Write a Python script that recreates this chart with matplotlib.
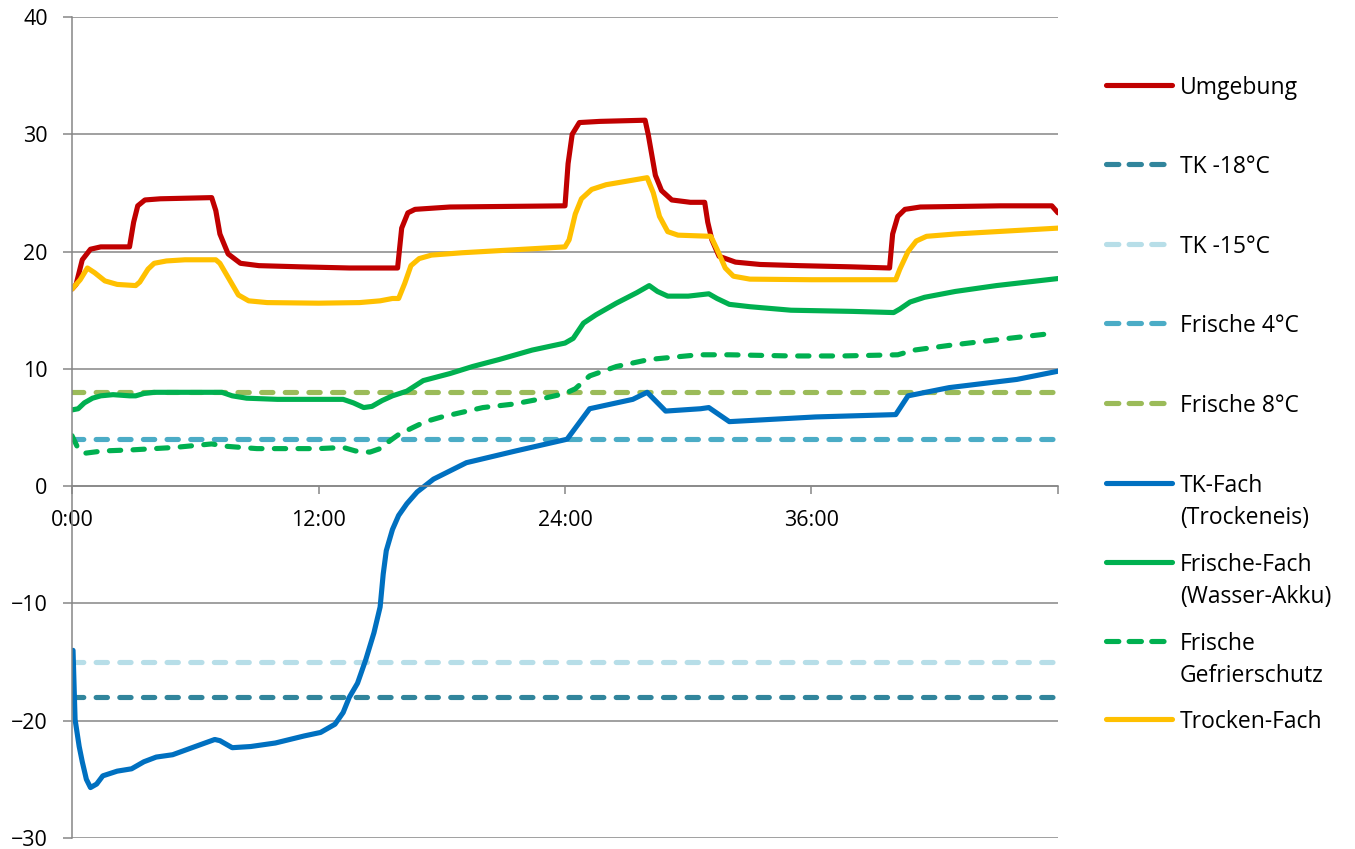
import numpy as np
import matplotlib
matplotlib.use("Agg")
from matplotlib import pyplot as plt
from matplotlib.lines import Line2D

plt.rcParams['font.family'] = ['Open Sans', 'DejaVu Sans']

# time axis in hours, values in degC
umg_t = [0.0, 0.2, 0.5, 0.9, 1.4, 2.8, 3.0, 3.2, 3.55, 4.3, 6.8, 7.0, 7.2, 7.6, 8.2, 9.1, 11.1, 13.5,
         15.85, 16.05, 16.35, 16.7, 18.4, 24.0, 24.15, 24.35, 24.7, 25.7, 27.9, 28.05, 28.4, 28.7,
         29.2, 30.1, 30.8, 30.95, 31.15, 31.5, 32.3, 33.5, 35.4, 37.9, 39.8, 39.95, 40.2, 40.55,
         41.3, 45.2, 47.7, 48.0]
umg_v = [16.8, 17.2, 19.3, 20.2, 20.4, 20.4, 22.5, 23.9, 24.4, 24.5, 24.6, 23.5, 21.5, 19.8, 19.0,
         18.8, 18.7, 18.6, 18.6, 22.0, 23.3, 23.6, 23.8, 23.9, 27.5, 30.0, 31.0, 31.1, 31.2, 30.0,
         26.5, 25.2, 24.4, 24.2, 24.2, 22.5, 21.0, 19.6, 19.1, 18.9, 18.8, 18.7, 18.6, 21.5, 23.0,
         23.6, 23.8, 23.9, 23.9, 23.3]

tk_t = [0.05, 0.15, 0.35, 0.5, 0.7, 0.9, 1.2, 1.5, 2.2, 2.9, 3.5, 4.1, 4.9, 6.0, 6.95, 7.2, 7.8,
        8.7, 9.9, 11.3, 12.1, 12.8, 13.2, 13.5, 13.9, 14.3, 14.7, 15.0, 15.15, 15.3, 15.6, 15.9,
        16.3, 16.8, 17.6, 19.2, 21.6, 24.1, 25.2, 27.3, 28.0, 28.9, 30.6, 31.0, 32.0, 36.2, 40.1,
        40.7, 42.7, 46.0, 48.0]
tk_v = [-14.0, -19.9, -22.2, -23.5, -25.0, -25.7, -25.4, -24.7, -24.3, -24.1, -23.5, -23.1, -22.9,
        -22.2, -21.6, -21.7, -22.3, -22.2, -21.9, -21.3, -21.0, -20.3, -19.3, -18.0, -16.8, -14.8,
        -12.5, -10.3, -7.5, -5.5, -3.7, -2.5, -1.5, -0.5, 0.6, 2.0, 3.0, 4.0, 6.6, 7.4, 8.0, 6.4,
        6.6, 6.7, 5.5, 5.9, 6.1, 7.7, 8.4, 9.1, 9.8]

fri_t = [0.0, 0.3, 0.6, 1.0, 1.4, 2.0, 2.8, 3.1, 3.5, 4.0, 7.3, 7.8, 8.5, 10.0, 13.2, 13.7, 14.2,
         14.6, 15.1, 15.6, 16.3, 17.1, 18.4, 19.5, 20.8, 22.4, 24.0, 24.4, 24.9, 25.5, 26.5, 27.5,
         28.1, 28.5, 29.0, 30.0, 31.0, 31.4, 32.0, 33.0, 35.0, 38.0, 40.0, 40.3, 40.8, 41.5, 43.0,
         45.0, 48.0]
fri_v = [6.5, 6.6, 7.1, 7.5, 7.7, 7.8, 7.7, 7.7, 7.9, 8.0, 8.0, 7.7, 7.5, 7.4, 7.4, 7.1, 6.7, 6.8,
         7.3, 7.7, 8.1, 9.0, 9.6, 10.2, 10.8, 11.6, 12.2, 12.6, 13.9, 14.6, 15.6, 16.5, 17.1, 16.6,
         16.2, 16.2, 16.4, 16.0, 15.5, 15.3, 15.0, 14.9, 14.8, 15.1, 15.7, 16.1, 16.6, 17.1, 17.7]

gfs_t = [0.0, 0.3, 0.6, 1.5, 3.0, 5.0, 6.8, 7.5, 9.0, 12.0, 13.2, 13.8, 14.5, 15.0, 15.5, 15.9,
         16.6, 17.2, 18.0, 19.0, 20.0, 21.5, 23.0, 24.0, 24.5, 25.2, 26.5, 28.1, 30.5, 32.0, 35.0,
         37.5, 40.2, 41.0, 42.7, 45.1, 47.6]
gfs_v = [4.3, 3.2, 2.8, 3.0, 3.1, 3.3, 3.6, 3.4, 3.2, 3.2, 3.3, 3.0, 2.9, 3.2, 3.9, 4.4, 5.0, 5.5,
         5.9, 6.3, 6.7, 7.0, 7.5, 7.9, 8.3, 9.4, 10.2, 10.8, 11.2, 11.2, 11.1, 11.1, 11.2, 11.6,
         12.0, 12.5, 13.0]

tro_t = [0.0, 0.4, 0.75, 1.1, 1.6, 2.2, 3.1, 3.3, 3.7, 4.0, 4.6, 5.5, 7.0, 7.2, 7.6, 8.1, 8.6, 9.5,
         12.0, 14.0, 15.0, 15.6, 15.9, 16.2, 16.5, 16.9, 17.5, 19.0, 21.0, 24.0, 24.2, 24.5, 24.8,
         25.3, 26.0, 28.0, 28.3, 28.6, 29.0, 29.5, 31.1, 31.4, 31.8, 32.2, 33.0, 36.0, 40.1, 40.3,
         40.7, 41.1, 41.6, 43.0, 45.0, 48.0]
tro_v = [16.8, 17.6, 18.6, 18.2, 17.5, 17.2, 17.1, 17.4, 18.5, 19.0, 19.2, 19.3, 19.3, 19.0, 17.8,
         16.3, 15.8, 15.65, 15.6, 15.65, 15.8, 16.0, 16.0, 17.3, 18.8, 19.4, 19.7, 19.9, 20.1, 20.4,
         21.0, 23.2, 24.5, 25.3, 25.7, 26.3, 25.0, 23.0, 21.7, 21.4, 21.3, 20.2, 18.6, 17.9, 17.65,
         17.6, 17.6, 18.5, 20.0, 20.9, 21.3, 21.5, 21.7, 22.0]

x_ticks = [0, 12, 24, 36, 48]
x_labels = ['0:00', '12:00', '24:00', '36:00', '']
y_ticks = [-30, -20, -10, 0, 10, 20, 30, 40]

# legend order = drawing order; limit lines have a constant value
series = [
    ('Umgebung', umg_t, umg_v, '#C00000', '-'),
    ('TK -18°C', None, -18, '#31859C', '--'),
    ('TK -15°C', None, -15, '#B7DEE8', '--'),
    ('Frische 4°C', None, 4, '#4BACC6', '--'),
    ('Frische 8°C', None, 8, '#9BBB59', '--'),
    ('TK-Fach\n(Trockeneis)', tk_t, tk_v, '#0070C0', '-'),
    ('Frische-Fach\n(Wasser-Akku)', fri_t, fri_v, '#00B050', '-'),
    ('Frische\nGefrierschutz', gfs_t, gfs_v, '#00B050', '--'),
    ('Trocken-Fach', tro_t, tro_v, '#FFC000', '-'),
]

W, H = 1355, 849
fig = plt.figure(figsize=(W / 100, H / 100), dpi=100)
ax = fig.add_axes([72 / W, 1 - 838 / H, (1058 - 72) / W, (838 - 17) / H])

lw = 3.7
dash = (0, (2.2, 2.4))
grid_col = '#868686'

for y in y_ticks:
    ax.axhline(y, color=grid_col, lw=1.1, zorder=0)

for name, t, v, col, ls in series:
    if t is None:
        ax.plot([0, 48], [v, v], color=col, lw=lw, linestyle=dash,
                dash_capstyle='round')
    else:
        style = dash if ls == '--' else '-'
        ax.plot(t, v, color=col, lw=lw, linestyle=style, dash_capstyle='round',
                solid_capstyle='round', solid_joinstyle='round')

ax.set_xlim(0, 48)
ax.set_ylim(-30, 40)
ax.set_xticks(x_ticks)
ax.set_xticklabels(x_labels)
ax.set_yticks(y_ticks)

for s in ['top', 'right']:
    ax.spines[s].set_visible(False)
ax.spines['bottom'].set_position(('data', 0))
for s in ['bottom', 'left']:
    ax.spines[s].set_color(grid_col)
    ax.spines[s].set_linewidth(1.1)

ax.tick_params(axis='x', direction='out', length=6, width=1.1, color=grid_col,
               labelsize=15.5, pad=11)
ax.tick_params(axis='y', direction='out', length=6.5, width=1.1, color=grid_col,
               labelsize=15.5, pad=11)

# legend drawn by hand so the handle lines up with the first text line
leg_y = [85, 164, 244, 323, 403, 483, 562, 641, 719]
for (name, t, v, col, ls), y in zip(series, leg_y):
    fy = 1 - y / H
    if ls == '--':
        fig.add_artist(Line2D([1106 / W, 1172 / W], [fy, fy], color=col, lw=lw,
                              linestyle=(0, (2.4, 2.0)), dash_capstyle='round'))
    else:
        fig.add_artist(Line2D([1106 / W, 1172 / W], [fy, fy], color=col, lw=lw,
                              solid_capstyle='round'))
    for i, line in enumerate(name.split('\n')):
        fig.text(1180 / W, 1 - (y + i * 32) / H, line, fontsize=16.5,
                 va='center_baseline', ha='left')

fig.savefig('out.png', dpi=100)
